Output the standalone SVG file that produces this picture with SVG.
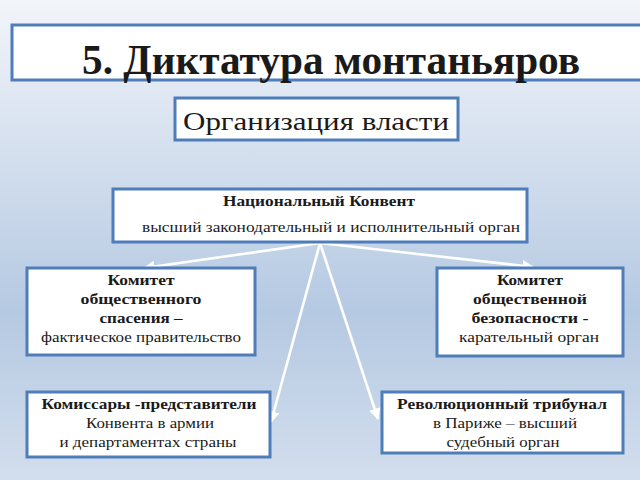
<svg xmlns="http://www.w3.org/2000/svg" width="640" height="480" viewBox="0 0 640 480">
<defs>
<linearGradient id="bg" x1="0" y1="0" x2="0" y2="1">
<stop offset="0" stop-color="#f2f5fa"/>
<stop offset="0.3" stop-color="#d6e1ef"/>
<stop offset="0.65" stop-color="#b5c9e2"/>
<stop offset="1" stop-color="#d3deed"/>
</linearGradient>
<marker id="ah" viewBox="0 0 10 10" refX="9" refY="5" markerWidth="4.5" markerHeight="4.5" orient="auto" markerUnits="strokeWidth">
<path d="M0,0 L10,5 L0,10 z" fill="#ffffff"/>
</marker>
<style>
.box{fill:#ffffff;stroke:#4f7dba;stroke-width:3}
.t{font-family:"Liberation Serif","DejaVu Serif",serif;fill:#1a1a1a;text-anchor:middle}
.b{font-weight:bold}
.s{font-size:15px}
.conn{stroke:#ffffff;stroke-width:2.6;fill:none;marker-end:url(#ah)}
</style>
</defs>
<rect x="0" y="0" width="640" height="480" fill="url(#bg)"/>
<g id="title">
<rect class="box" x="12" y="25" width="640" height="55"/>
<text class="t b" x="331" y="74" font-size="42" textLength="498" lengthAdjust="spacingAndGlyphs">5. Диктатура монтаньяров</text>
</g>
<g id="subtitle">
<rect class="box" x="175" y="98" width="283" height="42"/>
<text class="t" x="316" y="130" font-size="26" textLength="266" lengthAdjust="spacingAndGlyphs">Организация власти</text>
</g>
<g id="connectors">
<line class="conn" x1="320" y1="243" x2="144" y2="268"/>
<line class="conn" x1="320" y1="243" x2="533" y2="267"/>
<line class="conn" x1="320" y1="243" x2="271" y2="422"/>
<line class="conn" x1="320" y1="243" x2="378" y2="419"/>
</g>
<g id="convent">
<rect class="box" x="113" y="189" width="414" height="53"/>
<text class="t b s" x="319" y="206" textLength="192" lengthAdjust="spacingAndGlyphs">Национальный Конвент</text>
<text class="t s" x="331" y="232" textLength="378" lengthAdjust="spacingAndGlyphs">высший законодательный и исполнительный орган</text>
</g>
<g id="csp">
<rect class="box" x="27" y="268" width="228" height="87"/>
<text class="t b s" x="141" y="285" textLength="67" lengthAdjust="spacingAndGlyphs">Комитет</text>
<text class="t b s" x="141" y="304" textLength="121" lengthAdjust="spacingAndGlyphs">общественного</text>
<text class="t b s" x="141" y="323" textLength="83" lengthAdjust="spacingAndGlyphs">спасения –</text>
<text class="t s" x="141" y="342" textLength="200" lengthAdjust="spacingAndGlyphs">фактическое правительство</text>
</g>
<g id="csb">
<rect class="box" x="437" y="268" width="186" height="88"/>
<text class="t b s" x="530" y="285" textLength="66" lengthAdjust="spacingAndGlyphs">Комитет</text>
<text class="t b s" x="530" y="304" textLength="114" lengthAdjust="spacingAndGlyphs">общественной</text>
<text class="t b s" x="530" y="323" textLength="117" lengthAdjust="spacingAndGlyphs">безопасности -</text>
<text class="t s" x="529" y="342" textLength="140" lengthAdjust="spacingAndGlyphs">карательный орган</text>
</g>
<g id="commissars">
<rect class="box" x="27" y="392" width="243" height="65"/>
<text class="t b s" x="149" y="409" textLength="215" lengthAdjust="spacingAndGlyphs">Комиссары -представители</text>
<text class="t s" x="150" y="428" textLength="128" lengthAdjust="spacingAndGlyphs">Конвента в армии</text>
<text class="t s" x="148" y="447" textLength="177" lengthAdjust="spacingAndGlyphs">и департаментах страны</text>
</g>
<g id="tribunal">
<rect class="box" x="382" y="392" width="241" height="61"/>
<text class="t b s" x="502" y="409" textLength="210" lengthAdjust="spacingAndGlyphs">Революционный трибунал</text>
<text class="t s" x="505" y="428" textLength="144" lengthAdjust="spacingAndGlyphs">в Париже – высший</text>
<text class="t s" x="503" y="447" textLength="113" lengthAdjust="spacingAndGlyphs">судебный орган</text>
</g>
</svg>
